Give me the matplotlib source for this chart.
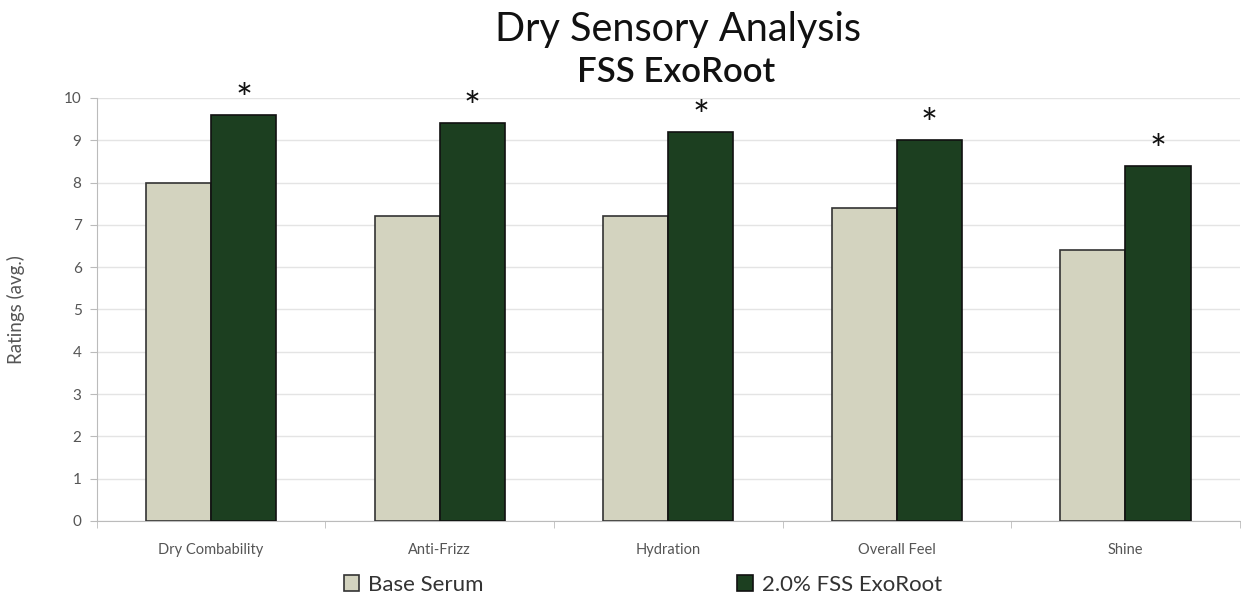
import numpy as np
import matplotlib.pyplot as plt

categories = ['Dry Combability', 'Anti-Frizz', 'Hydration', 'Overall Feel', 'Shine']
base_serum = [8.0, 7.2, 7.2, 7.4, 6.4]
exoroot = [9.6, 9.4, 9.2, 9.0, 8.4]
series_names = ['Base Serum', '2.0% FSS ExoRoot']

plt.rcParams['font.family'] = ['Lato', 'DejaVu Sans']

fig = plt.figure(figsize=(12.41, 6.0), dpi=100)
ax = fig.add_axes([0.078, 0.1317, 0.921, 0.705])

x = np.arange(len(categories))
w = 0.285
b1 = ax.bar(x - w / 2, base_serum, w, color='#d3d3bf', edgecolor='#333333', linewidth=1.2,
            label=series_names[0], zorder=3)
b2 = ax.bar(x + w / 2, exoroot, w, color='#1c3f20', edgecolor='#111111', linewidth=1.2,
            label=series_names[1], zorder=3)

# significance markers
for xi, v in zip(x, exoroot):
    ax.text(xi + w / 2, v - 0.12, '*', ha='center', va='bottom', fontsize=29, color='#111111')

ax.set_xlim(-0.5, len(categories) - 0.5)
ax.set_ylim(0, 10)
ax.set_yticks(range(0, 11))
ax.yaxis.grid(True, color='#e4e4e4', linewidth=1, zorder=0)
ax.set_axisbelow(True)

ax.set_xticks(x)
ax.set_xticklabels(categories, fontsize=10.5, color='#555555')
ax.set_xticks(np.arange(-0.5, len(categories)), minor=True)
ax.tick_params(axis='x', which='major', length=0, pad=16)
ax.tick_params(axis='x', which='minor', length=5, color='#bbbbbb')
ax.tick_params(axis='y', length=5, color='#bbbbbb', labelsize=11, labelcolor='#555555', pad=6)

for s in ['top', 'right']:
    ax.spines[s].set_visible(False)
for s in ['left', 'bottom']:
    ax.spines[s].set_color('#bbbbbb')

ax.set_ylabel('Ratings (avg.)', fontsize=13.5, color='#555555', labelpad=28)

fig.text(0.546, 0.95, 'Dry Sensory Analysis', ha='center', va='center', fontsize=28.5,
         color='#111111')
fig.text(0.545, 0.88, 'FSS ExoRoot', ha='center', va='center', fontsize=25,
         color='#111111', fontweight='semibold')

fig.legend(handles=[b1, b2], loc='center', bbox_to_anchor=(0.518, 0.025), ncol=2, frameon=False,
           fontsize=16, handlelength=0.7, handleheight=0.7, handletextpad=0.4,
           columnspacing=11.4, labelcolor='#333333')

fig.savefig('out.png', dpi=100)
